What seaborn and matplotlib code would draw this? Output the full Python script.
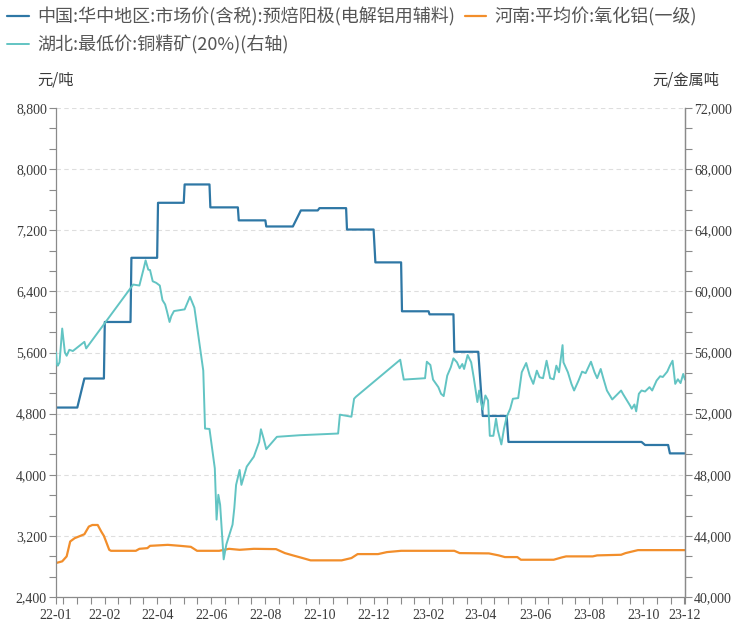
import matplotlib
matplotlib.use("Agg")
import pandas as pd
import seaborn as sns
import matplotlib.pyplot as plt
import matplotlib.dates as mdates
from matplotlib.ticker import MultipleLocator, AutoMinorLocator, StrMethodFormatter

# 预焙阳极 (left axis), monthly steps
blue_dates = ['2021-12-08', '2022-01-01', '2022-01-09', '2022-01-31', '2022-02-01', '2022-03-02',
              '2022-03-03', '2022-04-01', '2022-04-02', '2022-05-01', '2022-05-02', '2022-05-30',
              '2022-05-31', '2022-07-01', '2022-07-02', '2022-08-01', '2022-08-02', '2022-09-01',
              '2022-09-10', '2022-09-29', '2022-10-01', '2022-10-31', '2022-11-01', '2022-12-01',
              '2022-12-03', '2023-01-01', '2023-01-02', '2023-02-01', '2023-02-02', '2023-03-01',
              '2023-03-02', '2023-03-29', '2023-04-03', '2023-04-30', '2023-05-02', '2023-09-29',
              '2023-10-03', '2023-10-29', '2023-10-31', '2023-11-17']
blue_vals = [4880, 4880, 5260, 5260, 6000, 6000, 6840, 6840, 7560, 7560,
             7800, 7800, 7500, 7500, 7330, 7330, 7250, 7250, 7460, 7460,
             7490, 7490, 7210, 7210, 6780, 6780, 6140, 6140, 6100, 6100,
             5610, 5610, 4770, 4770, 4430, 4430, 4390, 4390, 4280, 4280]

# 氧化铝 (left axis)
orange_dates = ['2021-12-08', '2021-12-15', '2021-12-20', '2021-12-24', '2021-12-29', '2022-01-09',
                '2022-01-14', '2022-01-18', '2022-01-24', '2022-01-28', '2022-01-31', '2022-02-06',
                '2022-02-08', '2022-03-08', '2022-03-12', '2022-03-21', '2022-03-24', '2022-04-13',
                '2022-04-27', '2022-05-09', '2022-05-16', '2022-06-10', '2022-06-21', '2022-07-03',
                '2022-07-19', '2022-08-13', '2022-08-23', '2022-09-01', '2022-09-12', '2022-09-21',
                '2022-10-26', '2022-11-06', '2022-11-13', '2022-12-06', '2022-12-16', '2023-01-01',
                '2023-03-02', '2023-03-08', '2023-04-10', '2023-04-21', '2023-04-28', '2023-05-12',
                '2023-05-16', '2023-06-22', '2023-07-01', '2023-07-06', '2023-08-05', '2023-08-10',
                '2023-09-06', '2023-09-11', '2023-09-25', '2023-11-17']
orange_vals = [2845, 2867, 2932, 3127, 3170, 3222, 3322, 3343, 3343, 3257,
               3200, 3018, 3005, 3005, 3031, 3040, 3070, 3083, 3070, 3057,
               3005, 3005, 3031, 3018, 3031, 3027, 2975, 2945, 2910, 2880,
               2880, 2910, 2962, 2962, 2988, 3005, 3005, 2975, 2971, 2945,
               2923, 2923, 2888, 2888, 2918, 2932, 2932, 2945, 2953, 2975,
               3014, 3014]

# 铜精矿 (right axis)
cu_dates = ['2021-12-08', '2021-12-09', '2021-12-10', '2021-12-12', '2021-12-15', '2021-12-18',
            '2021-12-20', '2021-12-23', '2021-12-27', '2022-01-09', '2022-01-11', '2022-03-05',
            '2022-03-12', '2022-03-17', '2022-03-19', '2022-03-22', '2022-03-24', '2022-03-27',
            '2022-03-31', '2022-04-04', '2022-04-07', '2022-04-10', '2022-04-12', '2022-04-15',
            '2022-04-17', '2022-04-20', '2022-05-02', '2022-05-08', '2022-05-13', '2022-05-23',
            '2022-05-25', '2022-05-30', '2022-06-05', '2022-06-07', '2022-06-09', '2022-06-11',
            '2022-06-15', '2022-06-18', '2022-06-25', '2022-06-27', '2022-06-29', '2022-07-03',
            '2022-07-05', '2022-07-11', '2022-07-19', '2022-07-25', '2022-07-27', '2022-07-30',
            '2022-08-02', '2022-08-14', '2022-09-09', '2022-10-22', '2022-10-24', '2022-11-06',
            '2022-11-09', '2022-11-11', '2022-12-31', '2023-01-04', '2023-01-28', '2023-01-30',
            '2023-02-03', '2023-02-06', '2023-02-12', '2023-02-15', '2023-02-18', '2023-02-22',
            '2023-02-26', '2023-03-01', '2023-03-05', '2023-03-08', '2023-03-11', '2023-03-13',
            '2023-03-17', '2023-03-21', '2023-03-24', '2023-03-28', '2023-03-30', '2023-04-01',
            '2023-04-03', '2023-04-06', '2023-04-09', '2023-04-11', '2023-04-15', '2023-04-18',
            '2023-04-20', '2023-04-24', '2023-04-27', '2023-04-30', '2023-05-04', '2023-05-07',
            '2023-05-13', '2023-05-17', '2023-05-22', '2023-05-26', '2023-05-30', '2023-06-03',
            '2023-06-06', '2023-06-10', '2023-06-14', '2023-06-18', '2023-06-22', '2023-06-25',
            '2023-06-28', '2023-07-02', '2023-07-03', '2023-07-08', '2023-07-12', '2023-07-15',
            '2023-07-20', '2023-07-24', '2023-07-28', '2023-08-03', '2023-08-07', '2023-08-10',
            '2023-08-14', '2023-08-17', '2023-08-21', '2023-08-27', '2023-09-06', '2023-09-08',
            '2023-09-16', '2023-09-18', '2023-09-21', '2023-09-23', '2023-09-26', '2023-09-29',
            '2023-10-03', '2023-10-08', '2023-10-11', '2023-10-16', '2023-10-20', '2023-10-23',
            '2023-10-28', '2023-10-31', '2023-11-03', '2023-11-06', '2023-11-09', '2023-11-12',
            '2023-11-15', '2023-11-17']
cu_vals = [56010, 55250, 55140, 55360, 57570, 56010,
           55790, 56180, 56100, 56700, 56270, 60450,
           60385, 61535, 62030, 61425, 61400, 60665,
           60560, 60385, 59430, 59150, 58715, 58000,
           58390, 58715, 58825, 59650, 58935, 54815,
           51025, 51000, 48425, 45065, 46690, 46040,
           42465, 43440, 44740, 45825, 47340, 48315,
           47340, 48535, 49185, 50160, 50980, 50375,
           49680, 50485, 50590, 50700, 51935, 51800,
           52975, 53100, 55530, 54230, 54320, 55400,
           55185, 54230, 53735, 53300, 53150, 54490,
           55035, 55620, 55360, 54970, 55250, 54925,
           55835, 55360, 54320, 52760, 53515, 52760,
           52280, 53190, 52865, 50550, 50550, 51675,
           50915, 49985, 51025, 51785, 52325, 52975,
           53020, 54710, 55315, 54490, 53950, 54815,
           54385, 54320, 55465, 54320, 54250, 55140,
           54710, 56485, 55360, 54710, 53950, 53515,
           54165, 54750, 54650, 55400, 54710, 54320,
           54925, 54300, 53515, 52930, 53515, 53300,
           52540, 52325, 52600, 52150, 53300, 53515,
           53450, 53735, 53515, 54165, 54450, 54400,
           54750, 55140, 55465, 53950, 54250, 54000,
           54600, 54230]

labels = ['中国:华中地区:市场价(含税):预焙阳极(电解铝用辅料)',
          '河南:平均价:氧化铝(一级)',
          '湖北:最低价:铜精矿(20%)(右轴)']
colors = ['#2e77a5', '#f28e2b', '#62c4c3']

tick_dates = ['2021-12-08', '2022-02-01', '2022-04-01', '2022-06-01', '2022-08-01', '2022-10-01',
              '2022-12-01', '2023-02-01', '2023-04-01', '2023-06-01', '2023-08-01', '2023-10-01',
              '2023-11-17']
tick_labels = ['22-01', '22-02', '22-04', '22-06', '22-08', '22-10', '22-12',
               '23-02', '23-04', '23-06', '23-08', '23-10', '23-12']

sns.set_style('ticks')
plt.rcParams['font.family'] = ['Noto Sans CJK SC', 'DejaVu Sans']
plt.rcParams['axes.unicode_minus'] = False

fig = plt.figure(figsize=(7.33, 6.21), dpi=100)
ax = fig.add_axes([0.0764, 0.0386, 0.8581, 0.7874])
ax2 = ax.twinx()

sns.lineplot(x=pd.to_datetime(blue_dates), y=blue_vals, ax=ax, color=colors[0],
             linewidth=1.6, estimator=None)
sns.lineplot(x=pd.to_datetime(orange_dates), y=orange_vals, ax=ax, color=colors[1],
             linewidth=1.6, estimator=None)
sns.lineplot(x=pd.to_datetime(cu_dates), y=cu_vals, ax=ax2, color=colors[2],
             linewidth=1.4, estimator=None)

ax.set_xlim(pd.Timestamp('2021-12-08'), pd.Timestamp('2023-11-17'))
ax.set_ylim(2400, 8800)
ax2.set_ylim(40000, 72000)

serif = 'Liberation Serif'
gray = '#8a8a8a'
txt = '#3a3a3a'

ax.yaxis.set_major_locator(MultipleLocator(800))
ax.yaxis.set_minor_locator(AutoMinorLocator(3))
ax.yaxis.set_major_formatter(StrMethodFormatter('{x:,.0f}'))
ax2.yaxis.set_major_locator(MultipleLocator(4000))
ax2.yaxis.set_minor_locator(AutoMinorLocator(3))
ax2.yaxis.set_major_formatter(StrMethodFormatter('{x:,.0f}'))

ax.set_xticks(pd.to_datetime(tick_dates), tick_labels)
ax.xaxis.set_minor_locator(mdates.DayLocator(bymonthday=[1, 16]))

for a in (ax, ax2):
    a.set_xlabel('')
    a.set_ylabel('')
    a.spines['top'].set_visible(False)
    for s in ('left', 'right', 'bottom'):
        a.spines[s].set_color(gray)
        a.spines[s].set_linewidth(0.9)
    a.tick_params(which='both', length=5, width=0.8, color=gray, labelsize=10,
                  labelcolor=txt)
    a.tick_params(axis='y', which='major', pad=1.5)
    for lbl in a.get_xticklabels() + a.get_yticklabels():
        lbl.set_fontfamily(serif)
ax2.spines['left'].set_visible(False)
ax2.spines['bottom'].set_visible(False)

ax.grid(axis='y', which='major', linestyle=(0, (4, 3)), color='#dedede', linewidth=0.8)
ax.grid(axis='x', visible=False)
ax2.grid(False)
ax.set_axisbelow(True)

fig.text(56 / 733, 1 - 80 / 621, '元/吨', ha='center', va='center', fontsize=11, color=txt)
fig.text(686 / 733, 1 - 80 / 621, '元/金属吨', ha='center', va='center', fontsize=11, color=txt)

h_blue, h_orange = ax.get_lines()[:2]
h_cu = ax2.get_lines()[0]
fig.legend([h_blue, h_cu, h_orange], [labels[0], labels[2], labels[1]], ncol=2,
           loc='upper left', bbox_to_anchor=(0.0, 1.0), borderaxespad=0.0, frameon=False,
           fontsize=13, labelcolor='#555555', handlelength=1.2, handletextpad=0.45,
           columnspacing=0.55, labelspacing=0.5)

fig.savefig('out.png', dpi=100)
